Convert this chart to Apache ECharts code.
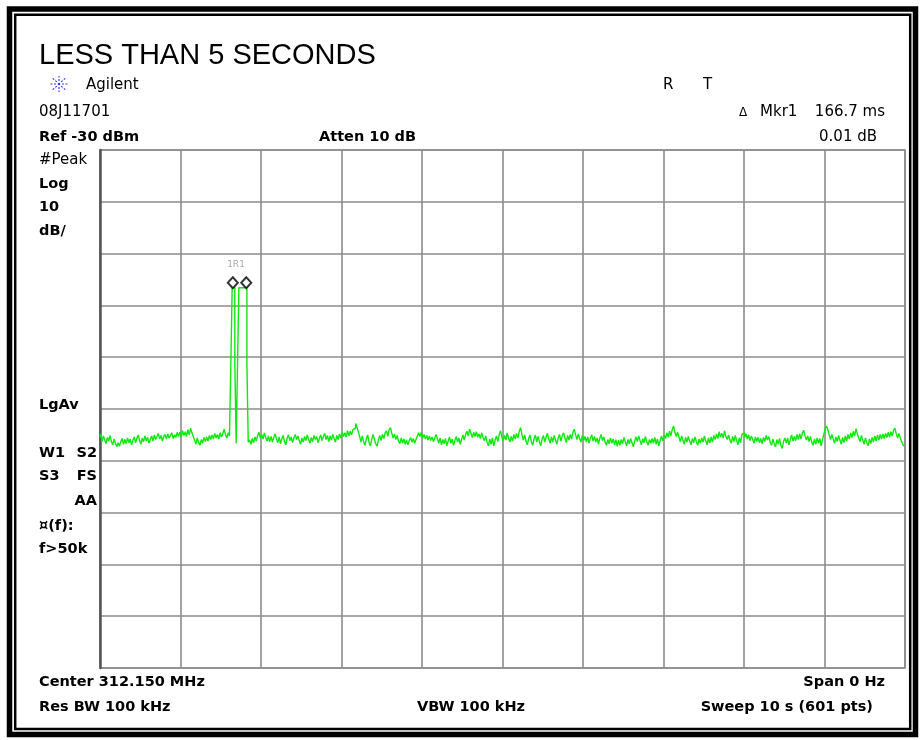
<!DOCTYPE html>
<html>
<head>
<meta charset="utf-8">
<script src="https://cdn.jsdelivr.net/npm/echarts@6/dist/echarts.min.js"></script>
<style>
  html, body { margin: 0; padding: 0; background: #fff; }
  #chart { width: 923px; height: 740px; }
</style>
</head>
<body>
<div id="chart"></div>
<script>
// ---- Instrument settings ----
const sweepSec = 10;          // Sweep 10 s
const sweepPoints = 601;      // 601 pts
const refLevel = -30;         // Ref -30 dBm
const dbPerDiv = 10;          // 10 dB/div
const divisions = 10;

// ---- Trace (dBm), one value per sweep point ----
const traceDbm = [
  -85.4,-84.8,-86.3,-85.2,-86.0,-86.7,-85.5,-86.2,-85.1,-86.3,-86.9,-85.8,-86.6,-87.3,-86.5,-87.2,-86.3,-85.7,-86.8,-85.9,
  -86.7,-85.6,-86.5,-85.8,-86.9,-86.1,-85.4,-86.5,-85.7,-85.0,-86.1,-86.8,-85.6,-86.3,-85.2,-86.2,-85.5,-86.6,-85.9,-85.2,
  -86.2,-85.0,-85.9,-85.3,-84.7,-85.8,-85.1,-86.2,-85.3,-84.9,-85.8,-84.8,-85.6,-85.1,-84.6,-85.7,-85.0,-85.5,-84.5,-85.3,
  -84.5,-85.4,-84.2,-85.1,-84.4,-85.3,-84.0,-85.0,-83.7,-84.6,-85.3,-86.0,-86.8,-85.6,-86.5,-87.0,-85.9,-86.6,-85.5,-86.3,
  -85.4,-86.2,-85.1,-85.9,-85.0,-85.8,-84.7,-85.6,-84.9,-85.8,-84.6,-85.4,-84.8,-83.9,-84.9,-85.6,-84.6,
  -85.2,-71.5,-56.6,-56.6,-71.5,-86.6,-71.5,-56.6,-56.6,-56.6,-56.6,-56.6,-56.6,-71.5,-86.4,
  -86.0,-86.8,-85.7,-86.5,-85.4,-86.2,-85.1,-84.5,-85.6,-84.9,-85.8,-84.6,-85.5,-86.2,-85.2,-86.3,-85.3,-86.4,-85.5,-84.8,
  -85.7,-86.5,-85.4,-86.7,-85.8,-85.1,-86.3,-86.9,-85.6,-85.0,-86.1,-85.4,-86.5,-85.6,-84.9,-85.9,-85.2,-86.1,-86.8,-85.6,
  -86.4,-85.3,-86.1,-85.0,-85.9,-86.6,-85.5,-86.3,-85.1,-85.9,-85.3,-86.5,-85.7,-85.0,-86.1,-85.3,-84.7,-85.9,-85.1,-86.3,
  -85.2,-86.0,-84.9,-85.7,-86.4,-85.1,-85.9,-84.8,-85.6,-84.5,-85.3,-84.6,-85.4,-84.2,-85.2,-84.3,-85.0,-84.0,-83.7,-82.8,
  -83.5,-84.4,-85.3,-86.4,-85.2,-86.3,-87.0,-85.8,-85.0,-86.4,-87.1,-85.9,-84.9,-85.8,-86.7,-87.2,-86.0,-85.1,-86.1,-84.9,
  -85.7,-84.6,-84.2,-85.3,-84.0,-83.6,-84.7,-85.6,-84.8,-85.9,-85.1,-86.2,-86.7,-85.6,-86.6,-85.8,-86.8,-86.0,-86.9,-86.1,
  -85.5,-86.4,-85.7,-86.6,-85.9,-85.2,-84.6,-85.3,-84.5,-85.6,-84.9,-85.8,-85.1,-86.0,-85.2,-86.1,-85.4,-86.3,-85.6,-84.9,
  -85.8,-86.6,-85.6,-86.9,-85.9,-86.7,-85.7,-87.1,-86.2,-85.4,-86.6,-85.8,-87.0,-86.1,-85.3,-86.4,-85.6,-86.8,-85.9,-85.0,
  -86.0,-84.9,-84.3,-85.2,-83.9,-84.7,-85.5,-84.5,-85.3,-84.4,-85.4,-84.8,-85.7,-84.6,-85.5,-86.1,-85.2,-86.4,-87.1,-85.8,
  -86.8,-85.6,-87.1,-86.0,-85.2,-86.3,-85.0,-84.2,-85.4,-86.2,-85.1,-86.0,-84.6,-85.6,-86.4,-85.3,-86.2,-84.9,-85.8,-84.7,
  -85.6,-84.3,-83.6,-85.0,-86.0,-85.0,-86.2,-86.9,-85.7,-85.0,-86.3,-87.0,-85.8,-85.0,-86.4,-85.3,-86.3,-87.1,-85.8,-85.1,
  -86.4,-85.4,-84.7,-85.8,-86.6,-85.4,-86.4,-85.1,-86.0,-86.8,-85.6,-84.9,-86.2,-85.2,-84.6,-85.6,-86.5,-85.1,-86.0,-84.9,
  -85.8,-84.5,-83.9,-85.0,-85.9,-84.8,-85.7,-86.4,-85.1,-86.1,-85.3,-86.4,-85.4,-86.6,-85.6,-85.0,-86.2,-85.3,-86.4,-85.6,
  -86.8,-85.7,-84.9,-86.1,-85.4,-86.4,-87.0,-85.9,-86.7,-85.6,-86.6,-85.8,-86.9,-85.9,-87.2,-86.0,-87.0,-85.9,-86.7,-85.5,
  -86.3,-87.1,-85.9,-86.7,-85.7,-86.5,-87.3,-86.2,-85.4,-86.3,-85.2,-86.1,-86.9,-85.7,-86.5,-85.3,-86.3,-87.0,-85.9,-86.6,
  -85.7,-86.6,-85.5,-86.8,-85.8,-87.1,-86.1,-85.2,-86.2,-85.0,-85.7,-84.6,-85.4,-84.3,-85.2,-84.0,-83.3,-84.5,-85.3,-84.5,
  -85.4,-86.3,-85.2,-86.1,-86.8,-85.5,-86.4,-85.3,-86.2,-86.9,-85.7,-86.5,-85.4,-86.3,-87.0,-85.8,-86.6,-85.6,-86.4,-85.2,
  -86.2,-86.9,-85.6,-86.6,-85.4,-86.4,-85.1,-85.9,-84.8,-85.7,-84.4,-85.4,-84.7,-85.6,-84.2,-85.3,-85.9,-85.0,-86.0,-86.6,
  -85.3,-86.3,-85.1,-86.1,-86.9,-85.6,-86.5,-84.9,-84.6,-85.5,-84.8,-85.8,-85.0,-86.1,-85.2,-85.9,-86.6,-85.4,-86.3,-85.5,
  -86.5,-85.7,-86.7,-85.5,-86.3,-85.1,-86.0,-85.3,-86.4,-87.0,-85.8,-86.6,-87.3,-85.9,-86.8,-85.7,-87.0,-87.6,-86.2,-85.6,
  -86.6,-85.6,-86.9,-85.9,-85.0,-86.2,-85.3,-86.1,-84.9,-85.9,-84.8,-85.8,-84.6,-84.1,-85.2,-86.0,-85.2,-86.3,-85.3,-86.4,
  -87.0,-85.8,-86.8,-85.6,-86.6,-85.7,-87.1,-85.9,-84.9,-83.8,-83.3,-84.0,-85.0,-85.9,-84.9,-85.8,-86.6,-85.4,-86.3,-85.1,
  -86.0,-86.8,-85.5,-86.5,-85.2,-86.2,-84.9,-85.8,-84.6,-85.5,-84.3,-85.2,-83.8,-84.8,-85.6,-86.3,-85.1,-86.0,-86.8,-85.6,
  -86.5,-87.1,-85.8,-86.7,-85.5,-86.4,-85.2,-86.2,-85.0,-86.0,-84.9,-85.8,-84.8,-85.7,-84.7,-85.5,-84.5,-85.4,-84.4,-85.2,
  -84.1,-83.7,-84.8,-85.6,-84.7,-85.6,-86.3,-86.9,-87.2
];

// ---- Markers (sweep point indices): reference and delta marker, 10 pts = 166.7 ms apart ----
const markerIdx = [99, 109];
const markerLabel = '1R1';

// ---- Annotation texts ----
const titleText = 'LESS THAN 5 SECONDS';
const leftTexts = ['#Peak', 'Log', '10', 'dB/', 'LgAv', 'W1', 'S2', 'S3', 'FS', 'AA', '¤(f):', 'f>50k'];

const toTime = i => i * sweepSec / (sweepPoints - 1);
const traceData = traceDbm.map((v, i) => [toTime(i), v]);
const markerData = markerIdx.map(i => [toTime(i), traceDbm[i]]);

const REG = '15px "DejaVu Sans"';
const BOLD = 'bold 14.5px "DejaVu Sans"';
function txt(text, x, y, font, align, fill) {
  return { type: 'text', silent: true, z: 100,
    style: { text: text, x: x, y: y, font: font, fill: fill || '#000',
             align: align || 'left', verticalAlign: 'middle' } };
}

// Agilent starburst logo
const logo = { type: 'group', x: 59, y: 84, children: [] };
for (let k = 0; k < 8; k++) {
  const a = k * Math.PI / 4;
  logo.children.push({ type: 'line', silent: true,
    shape: { x1: Math.cos(a) * 3, y1: Math.sin(a) * 3, x2: Math.cos(a) * 9, y2: Math.sin(a) * 8 },
    style: { stroke: '#3b3bff', lineWidth: 1.2, lineDash: [2, 1.5] } });
}
logo.children.push({ type: 'circle', silent: true, shape: { cx: 0, cy: 0, r: 1.3 }, style: { fill: '#3b3bff' } });

const chart = echarts.init(document.getElementById('chart'), null, { renderer: 'canvas' });
chart.setOption({
  animation: false,
  backgroundColor: '#fff',
  title: {
    text: titleText, left: 34, top: 36,
    textStyle: { fontFamily: '"Liberation Sans", Arial, sans-serif', fontWeight: 'normal', fontSize: 29, color: '#000' }
  },
  grid: { left: 100, top: 150, width: 805, height: 518, show: true,
          borderColor: '#8c8c8c', borderWidth: 1.6, backgroundColor: '#fff' },
  xAxis: {
    type: 'value', min: 0, max: sweepSec, interval: sweepSec / divisions,
    axisLabel: { show: false }, axisTick: { show: false },
    axisLine: { show: false },
    splitLine: { show: true, lineStyle: { color: '#8c8c8c', width: 1.6 } }
  },
  yAxis: {
    type: 'value', min: refLevel - dbPerDiv * divisions, max: refLevel, interval: dbPerDiv,
    axisLabel: { show: false }, axisTick: { show: false },
    axisLine: { show: true, lineStyle: { color: '#555', width: 2.5 } },
    splitLine: { show: true, lineStyle: { color: '#8c8c8c', width: 1.6 } }
  },
  series: [
    { type: 'line', data: traceData, step: 'middle', symbol: 'none',
      lineStyle: { color: '#0bea0b', width: 1.4 }, z: 3 },
    { type: 'scatter', data: markerData, symbol: 'diamond', symbolSize: [10, 11],
      symbolOffset: [0, -5],
      itemStyle: { color: '#fff', borderColor: '#000', borderWidth: 2 }, z: 5 }
  ],
  graphic: [
    // frame
    { type: 'rect', silent: true, shape: { x: 9.5, y: 9, width: 906, height: 725.5 },
      style: { fill: 'none', stroke: '#000', lineWidth: 5.5 } },
    { type: 'rect', silent: true, shape: { x: 15.2, y: 14.7, width: 895, height: 714.3 },
      style: { fill: 'none', stroke: '#000', lineWidth: 2.5 } },
    logo,
    txt('Agilent', 86, 85, REG),
    txt('08J11701', 39, 112, REG),
    txt('R', 663, 85, REG),
    txt('T', 703, 85, REG),
    txt('Δ', 739, 112.5, '12px "DejaVu Sans"'),
    txt('Mkr1', 760, 112, REG),
    txt('166.7 ms', 885, 112, REG, 'right'),
    txt('0.01 dB', 877, 137.5, REG, 'right'),
    txt('Ref -30 dBm', 39, 137.5, BOLD),
    txt('Atten 10 dB', 319, 137.5, BOLD),
    txt(leftTexts[0], 39, 160, REG),
    txt(leftTexts[1], 39, 184, BOLD),
    txt(leftTexts[2], 39, 207.5, BOLD),
    txt(leftTexts[3], 39, 231, BOLD),
    txt(leftTexts[4], 39, 405, BOLD),
    txt(leftTexts[5], 39, 453, BOLD),
    txt(leftTexts[6], 97, 453, BOLD, 'right'),
    txt(leftTexts[7], 39, 476, BOLD),
    txt(leftTexts[8], 97, 476, BOLD, 'right'),
    txt(leftTexts[9], 97, 501, BOLD, 'right'),
    txt(leftTexts[10], 39, 526, BOLD),
    txt(leftTexts[11], 39, 549, BOLD),
    txt('Center 312.150 MHz', 39, 682.5, BOLD),
    txt('Span 0 Hz', 885, 682.5, BOLD, 'right'),
    txt('Res BW 100 kHz', 39, 707.5, BOLD),
    txt('VBW 100 kHz', 471, 707.5, BOLD, 'center'),
    txt('Sweep 10 s (601 pts)', 873, 707.5, BOLD, 'right'),
    txt(markerLabel, 236, 265, '9px "DejaVu Sans"', 'center', '#aaaaaa')
  ]
});
</script>
</body>
</html>
